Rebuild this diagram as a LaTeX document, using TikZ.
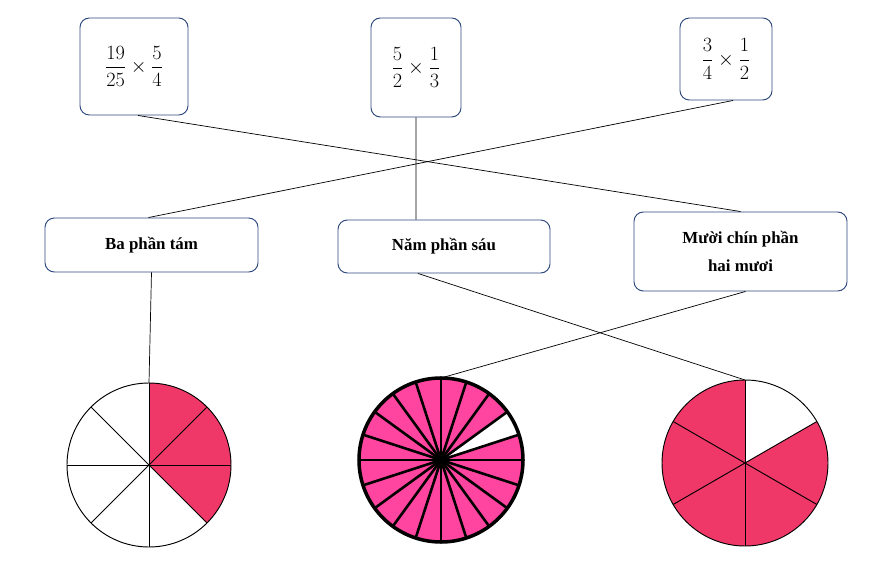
\documentclass[tikz,border=0pt]{standalone}
\usepackage{amsmath}
\usepackage{fontspec}
\setmainfont{Liberation Serif}
\definecolor{redpie}{HTML}{F03868}
\definecolor{pinkpie}{HTML}{FF45A0}
\definecolor{boxline}{HTML}{2F4A80}
\tikzset{
  cal/.style={draw=boxline, thick, rounded corners=8pt, inner sep=0pt},
  word/.style={draw=boxline, thick, rounded corners=8pt, font=\bfseries\Large, align=center, inner sep=0pt},
  link/.style={black, line width=0.6pt}
}
\begin{document}
\begin{tikzpicture}[x=0.03cm,y=-0.03cm]
\useasboundingbox (0,0) rectangle (890,566);
% phep tinh
\node[cal, minimum width=3.24cm, minimum height=2.91cm] (t1) at (134,66.5) {\LARGE$\dfrac{19}{25}\times\dfrac{5}{4}$};
\node[cal, minimum width=2.7cm, minimum height=2.97cm] (t2) at (416,67.5) {\LARGE$\dfrac{5}{2}\times\dfrac{1}{3}$};
\node[cal, minimum width=2.76cm, minimum height=2.46cm] (t3) at (726,59) {\LARGE$\dfrac{3}{4}\times\dfrac{1}{2}$};
% cach doc
\node[word, minimum width=6.39cm, minimum height=1.62cm] (w1) at (151.5,245) {Ba phần tám};
\node[word, minimum width=6.36cm, minimum height=1.59cm] (w2) at (444,246.5) {Năm phần sáu};
\node[word, minimum width=6.39cm, minimum height=2.37cm] (w3) at (740.5,251.5) {Mười chín phần\\[6pt]hai mươi};
% hinh tron
\coordinate (p1) at (149,465);
\coordinate (p2) at (441,460);
\coordinate (p3) at (745,463);
\fill[redpie] (p1) -- ++(-90:82) arc[start angle=-90, end angle=45, radius=82] -- cycle;
\draw[line width=0.8pt] (p1) circle[radius=82];
\foreach \a in {0,45,...,315} \draw[line width=0.8pt] (p1) -- ++(\a:82);
\fill[pinkpie] (p2) circle[radius=82];
\fill[white] (p2) -- ++(-18:82) arc[start angle=-18, end angle=-36, radius=82] -- cycle;
\foreach \a in {0,18,...,342} \draw[line width=2.2pt] (p2) -- ++(\a:82);
\draw[line width=3pt] (p2) circle[radius=82];
\fill[redpie] (p3) -- ++(-30:83) arc[start angle=-30, end angle=270, radius=83] -- cycle;
\draw[line width=0.8pt] (p3) circle[radius=83];
\foreach \a in {30,90,...,330} \draw[line width=0.8pt] (p3) -- ++(\a:83);
\coordinate (c1) at (149,383);
\coordinate (c2) at (441,378);
\coordinate (c3) at (745,380);
% noi
\draw[link] ([xshift=0.12cm]t1.south) -- (w3.north);
\draw[link] (t2.south) -- ([xshift=-0.84cm]w2.north);
\draw[link] ([xshift=0.21cm]t3.south) -- ([xshift=-0.09cm]w1.north);
\draw[link] (w1.south) -- (c1);
\draw[link] ([xshift=-0.78cm]w2.south) -- (c3);
\draw[link] ([xshift=0.15cm]w3.south) -- (c2);
\end{tikzpicture}
\end{document}
